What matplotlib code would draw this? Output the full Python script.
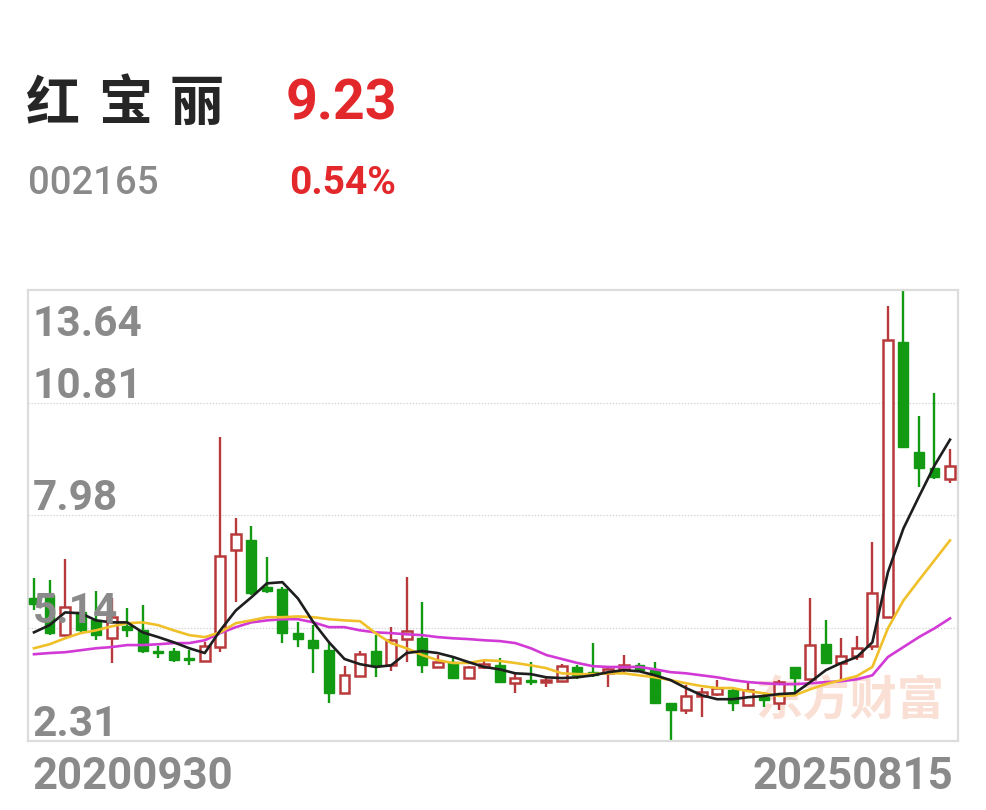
import matplotlib
matplotlib.use("Agg")
import matplotlib.pyplot as plt
from matplotlib.patches import Rectangle

# ---------------- data ----------------
name_chars = ["红", "宝", "丽"]
code = "002165"
last_price = "9.23"
change_pct = "0.54%"
start_label = "20200930"
end_label = "20250815"
watermark = "东方财富"
y_ticks = [13.64, 10.81, 7.98, 5.14, 2.31]

opens = [5.89, 5.97, 4.97, 5.54, 5.34, 4.89, 5.19, 5.09, 4.57, 4.57,
         4.39, 4.32, 4.67, 7.10, 7.37, 6.17, 6.14, 5.02, 4.84, 4.59,
         3.51, 3.94, 4.57, 4.21, 4.87, 4.89, 4.17, 4.29, 3.89, 4.17,
         4.21, 3.76, 3.84, 3.79, 3.81, 4.17, 4.04, 4.01, 4.11, 4.21,
         4.09, 3.26, 3.09, 3.44, 3.49, 3.59, 3.21, 3.41, 3.26, 4.17,
         3.86, 4.74, 4.27, 4.44, 4.69, 5.42, 12.34, 9.58, 9.18, 8.90]
closes = [5.74, 5.02, 5.67, 5.09, 4.97, 5.42, 5.09, 4.57, 4.52, 4.34,
          4.34, 4.69, 6.97, 7.52, 6.02, 6.09, 5.02, 4.87, 4.64, 3.51,
          3.96, 4.49, 4.21, 4.84, 5.07, 4.21, 4.29, 3.89, 4.17, 4.24,
          3.79, 3.89, 3.79, 3.84, 4.19, 3.96, 3.96, 4.11, 4.21, 4.09,
          3.26, 3.09, 3.44, 3.54, 3.64, 3.26, 3.59, 3.34, 3.79, 3.89,
          4.72, 4.27, 4.44, 4.64, 6.04, 12.39, 9.70, 9.18, 8.93, 9.23]
highs = [6.40, 6.35, 6.87, 5.69, 6.07, 5.89, 5.64, 5.72, 4.69, 4.64,
         4.59, 4.79, 9.95, 7.90, 7.72, 6.92, 6.17, 5.29, 5.22, 4.77,
         4.19, 4.57, 4.97, 5.17, 6.42, 5.79, 4.47, 4.39, 4.19, 4.34,
         4.39, 4.04, 4.29, 3.91, 4.24, 4.21, 4.77, 4.17, 4.47, 4.27,
         4.29, 3.26, 3.71, 3.64, 3.84, 3.64, 3.76, 3.54, 3.84, 4.17,
         5.89, 5.34, 4.89, 4.94, 7.30, 13.24, 13.61, 10.48, 11.06, 9.65]
lows = [5.59, 4.97, 4.94, 5.04, 4.84, 4.27, 4.92, 4.52, 4.39, 4.29,
        4.21, 4.29, 4.54, 5.79, 5.97, 6.02, 4.77, 4.67, 4.01, 3.26,
        3.49, 3.91, 3.91, 4.06, 4.29, 4.01, 4.14, 3.86, 3.86, 4.11,
        3.76, 3.51, 3.71, 3.66, 3.79, 3.86, 3.91, 3.66, 4.01, 4.04,
        3.24, 2.34, 2.99, 2.91, 3.44, 3.06, 3.19, 3.16, 3.09, 3.54,
        3.84, 4.24, 3.86, 4.34, 4.59, 5.39, 9.68, 8.68, 8.90, 8.80]

ma5 = [5.04, 5.22, 5.54, 5.52, 5.34, 5.29, 5.29, 5.04, 4.92, 4.79,
       4.64, 4.52, 5.09, 5.59, 5.92, 6.27, 6.30, 5.89, 5.29, 4.79,
       4.37, 4.24, 4.17, 4.21, 4.52, 4.57, 4.52, 4.42, 4.29, 4.17,
       4.11, 4.01, 3.99, 3.91, 3.89, 3.91, 3.96, 4.04, 4.09, 4.06,
       3.96, 3.84, 3.64, 3.46, 3.36, 3.36, 3.41, 3.44, 3.49, 3.51,
       3.79, 4.09, 4.27, 4.42, 4.79, 6.55, 7.65, 8.45, 9.23, 9.88]
ma10 = [4.64, 4.74, 4.89, 5.02, 5.09, 5.19, 5.27, 5.29, 5.22, 5.09,
        4.97, 4.92, 5.04, 5.27, 5.34, 5.42, 5.42, 5.44, 5.42, 5.37,
        5.34, 5.32, 5.02, 4.77, 4.64, 4.47, 4.34, 4.27, 4.27, 4.34,
        4.32, 4.27, 4.21, 4.14, 4.01, 3.99, 3.99, 4.01, 4.01, 3.96,
        3.91, 3.84, 3.76, 3.69, 3.64, 3.64, 3.56, 3.51, 3.44, 3.46,
        3.61, 3.74, 3.84, 3.94, 4.17, 5.14, 5.84, 6.35, 6.85, 7.35]
ma20 = [4.49, 4.52, 4.54, 4.59, 4.64, 4.67, 4.72, 4.72, 4.74, 4.77,
        4.77, 4.84, 5.02, 5.17, 5.29, 5.34, 5.37, 5.37, 5.29, 5.17,
        5.17, 5.09, 5.04, 5.02, 4.99, 4.97, 4.92, 4.89, 4.87, 4.84,
        4.82, 4.77, 4.64, 4.47, 4.37, 4.27, 4.19, 4.17, 4.17, 4.17,
        4.11, 4.04, 4.01, 3.96, 3.91, 3.84, 3.79, 3.76, 3.74, 3.74,
        3.76, 3.79, 3.81, 3.86, 3.96, 4.42, 4.67, 4.92, 5.14, 5.39]

# ---------------- style ----------------
RED = "#b8393b"
GREEN = "#129a12"
GRAY = "#8a8a8a"
W, H = 986, 810
CJK = ["Noto Sans CJK SC", "DejaVu Sans"]
NUM = ["Roboto", "DejaVu Sans"]

fig = plt.figure(figsize=(W / 100, H / 100), dpi=100)
fig.patch.set_facecolor("white")


def fx(px):
    return px / W


def fy(py):
    return 1 - py / H


# header
for i, ch in enumerate(name_chars):
    fig.text(fx(26 + 72 * i), fy(120), ch, family=CJK, fontsize=39,
             fontweight="bold", color="#262626", va="baseline", ha="left")
fig.text(fx(286), fy(119), last_price, family=NUM, fontsize=40,
         fontweight="bold", color="#e3282c", va="baseline", ha="left")
fig.text(fx(28), fy(194), code, family=NUM, fontsize=27.5,
         fontweight="medium", color=GRAY, va="baseline", ha="left")
fig.text(fx(289), fy(194), change_pct, family=NUM, fontsize=28,
         fontweight="bold", color="#e3282c", va="baseline", ha="left")

# chart axes
L, R, T, B = 28, 958, 290, 741
ax = fig.add_axes([fx(L), fy(B), (R - L) / W, (B - T) / H])
n = len(closes)
ax.set_xlim(-0.386, n - 1 + 0.515)
ax.set_ylim(min(y_ticks), max(y_ticks))
ax.set_xticks([])
ax.set_yticks([])
for s in ax.spines.values():
    s.set_color("#dcdcdc")
    s.set_linewidth(1.6)

for v in y_ticks[1:-1]:
    ax.axhline(v, color="#cfcfcf", lw=0.9, ls=(0, (1, 1.5)), zorder=0)

# watermark
ax.text(0.985, 0.035, watermark, transform=ax.transAxes, family=CJK,
        fontsize=34, fontweight="bold", color="#fadfd4", ha="right",
        va="bottom", zorder=0.5)

# candles
bw = 0.64
for i in range(n):
    o, c, h, l = opens[i], closes[i], highs[i], lows[i]
    up = c >= o
    col = RED if up else GREEN
    ax.plot([i, i], [l, h], color=col, lw=1.7, zorder=2,
            solid_capstyle="butt")
    bottom = min(o, c)
    height = max(abs(c - o), 0.02)
    if up:
        rect = Rectangle((i - bw / 2, bottom), bw, height, facecolor="white",
                         edgecolor=col, lw=1.8, zorder=3)
    else:
        rect = Rectangle((i - bw / 2, bottom), bw, height, facecolor=col,
                         edgecolor=col, lw=1.0, zorder=3)
    ax.add_patch(rect)

xs = list(range(n))
ax.plot(xs, ma20, color="#d23ad6", lw=1.9, zorder=4)
ax.plot(xs, ma10, color="#f0c02a", lw=1.9, zorder=4)
ax.plot(xs, ma5, color="#1e1e1e", lw=1.9, zorder=5)

# y labels
for k, v in enumerate(y_ticks):
    dy = -33 if k == 0 else 3.6
    ax.annotate(f"{v:.2f}", xy=(0, v), xycoords=("axes fraction", "data"),
                xytext=(3.6, dy), textcoords="offset points", family=NUM,
                fontsize=30.5, fontweight="bold", color=GRAY, va="baseline",
                ha="left", zorder=6, annotation_clip=False)

# x labels
fig.text(fx(33), fy(789), start_label, family=NUM, fontsize=31.5,
         fontweight="bold", color=GRAY, va="baseline", ha="left")
fig.text(fx(953), fy(789), end_label, family=NUM, fontsize=31.5,
         fontweight="bold", color=GRAY, va="baseline", ha="right")

fig.savefig("out.png", dpi=100, facecolor="white")
